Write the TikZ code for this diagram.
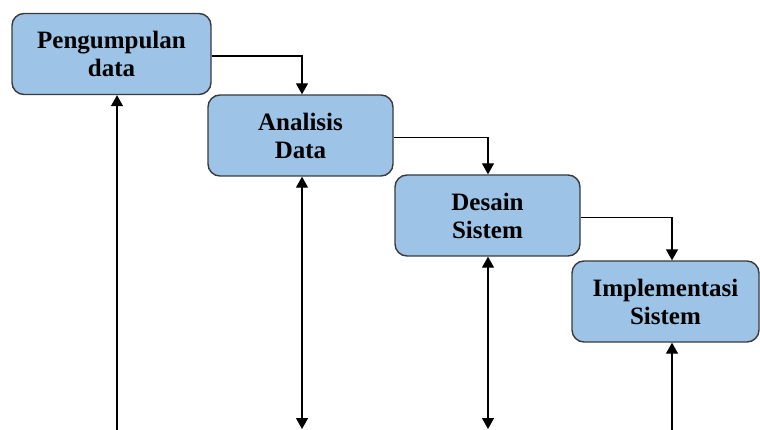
\documentclass[tikz,border=0pt]{standalone}
\usepackage{fontspec}
\setmainfont{Liberation Serif}
\usepackage{xcolor}
\usetikzlibrary{arrows.meta,positioning,calc}
\definecolor{boxblue}{HTML}{9DC3E6}
\definecolor{boxline}{HTML}{3A3A3A}
\tikzset{
  phase/.style  ={rectangle,rounded corners=12pt,draw=boxline,line width=1.4pt,fill=boxblue,minimum width=185pt,minimum height=81pt,inner sep=2pt,align=center,font=\fontsize{25}{28}\selectfont\bfseries},
  flow/.style   ={line width=1.3pt,-{Triangle[length=11pt,width=12pt]}},
  twoway/.style ={line width=1.3pt,{Triangle[length=11pt,width=12pt]}-{Triangle[length=11pt,width=12pt]}},
}
\begin{document}
\begin{tikzpicture}[x=1pt,y=-1pt]
  \useasboundingbox (0,0) rectangle (760,430);
  \node[phase,minimum width=199pt](p1) at (111.5,54){Pengumpulan\\data};
  \node[phase](p2) at (300.5,135.5){Analisis\\Data};
  \node[phase](p3) at (487.5,215.5){Desain\\Sistem};
  \node[phase,minimum width=187pt](p4) at (665.5,301.5){Implementasi\\Sistem};
  \coordinate (e1) at (117,431); \coordinate (e2) at (302,429);
  \coordinate (e3) at (488,429); \coordinate (e4) at (672,431);
  \draw[flow]([yshift=-2pt]p1.east) -| (e2 |- p2.north);
  \draw[flow]([yshift=-2pt]p2.east) -| (e3 |- p3.north);
  \draw[flow]([yshift=-2pt]p3.east) -| (e4 |- p4.north);
  \draw[flow](e1) -- (e1 |- p1.south);
  \draw[twoway](e2) -- (e2 |- p2.south);
  \draw[twoway](e3) -- (e3 |- p3.south);
  \draw[flow](e4) -- (e4 |- p4.south);
\end{tikzpicture}
\end{document}
